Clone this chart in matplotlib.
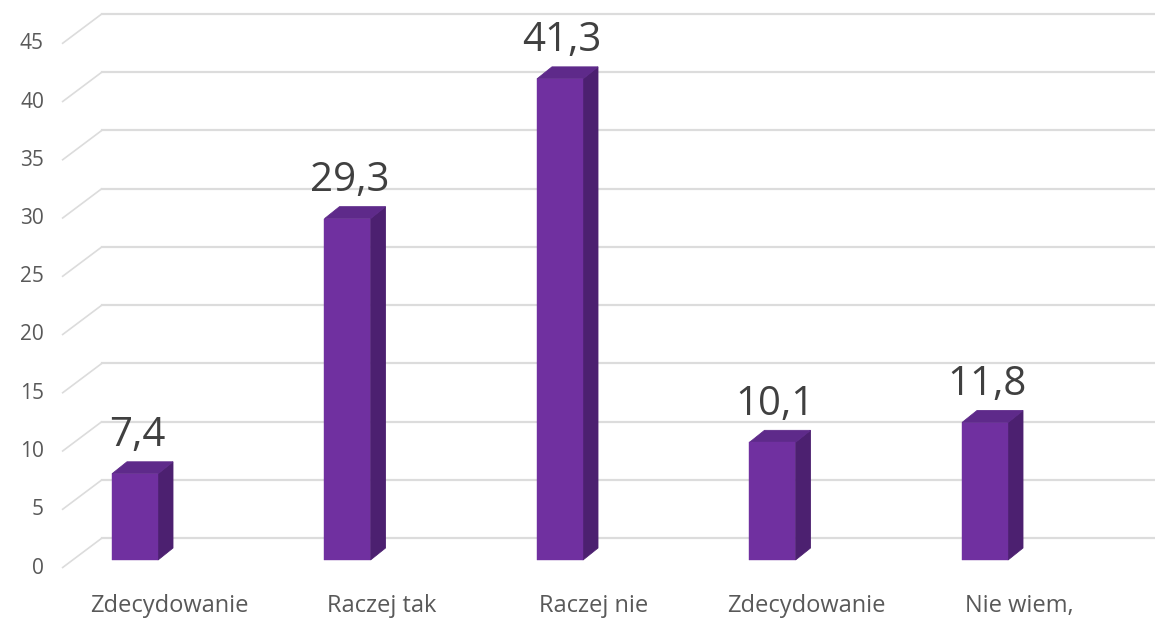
import numpy as np
import matplotlib
matplotlib.use("Agg")
import matplotlib.pyplot as plt

# dane z wykresu
kategorie = ["Zdecydowanie", "Raczej tak", "Raczej nie", "Zdecydowanie", "Nie wiem,"]
wartosci = [7.4, 29.3, 41.3, 10.1, 11.8]
etykiety = ["7,4", "29,3", "41,3", "10,1", "11,8"]
ticks_y = [0, 5, 10, 15, 20, 25, 30, 35, 40, 45]

plt.rcParams['font.family'] = ['Open Sans', 'DejaVu Sans']

W, H = 1155, 620
fig = plt.figure(figsize=(W / 100, H / 100), dpi=100)
ax = fig.add_axes([0, 0, 1, 1])

# skala: 1 kategoria = 212.5 px, 1 jednostka = 11.65 px
sx, sy = 212.5, 11.65
x0, y0 = 135, 560  # srodek pierwszego slupka, zero w plaszczyznie przedniej
ax.set_xlim(-x0 / sx, (W - x0) / sx)
ax.set_ylim(-(H - y0) / sy, y0 / sy)
ax.axis('off')

def px_x(p):
    return p / sx

def px_y(p):
    return p / sy

grid_col = '#DCDCDC'
# siatka: skos na lewej scianie + linia pozioma na tylnej scianie
for v in ticks_y:
    xa, ya = px_x(62 - x0), v - px_y(8)
    xb, yb = px_x(102 - x0), v + px_y(22)
    ax.plot([xa, xb], [ya, yb], color=grid_col, lw=1.2, zorder=1, solid_capstyle='butt')
    ax.plot([xb, px_x(W - x0)], [yb, yb], color=grid_col, lw=1.6, zorder=1)
    ax.text(px_x(44 - x0), ya, str(v), ha='right', va='center', fontsize=15,
            color='#595959', zorder=3)

front = '#7030A0'
side = '#4C2070'
top = '#5E2A8A'
bw = px_x(46)
dx, dy = px_x(15), px_y(12)
xs = np.arange(len(wartosci))

ax.bar(xs, wartosci, width=bw, color=front, zorder=5, edgecolor=front, linewidth=0.3)
for x, v in zip(xs, wartosci):
    r = x + bw / 2
    l = x - bw / 2
    ax.fill([r, r + dx, r + dx, r], [0, dy, v + dy, v], facecolor=side,
            edgecolor=side, zorder=4, lw=0.6)
    ax.fill([l, l + dx, r + dx, r], [v, v + dy, v + dy, v], facecolor=top,
            edgecolor=top, zorder=4, lw=0.6)

for x, v, t in zip(xs, wartosci, etykiety):
    ax.text(x + px_x(2), v + px_y(38), t, ha='center', va='center', fontsize=29,
            color='#404040', zorder=6)

for x, k in zip(xs, kategorie):
    ax.text(x + px_x(34), px_y(y0 - 606), k, ha='center', va='center', fontsize=17,
            color='#595959', zorder=6)

fig.savefig('out.png', dpi=100)
